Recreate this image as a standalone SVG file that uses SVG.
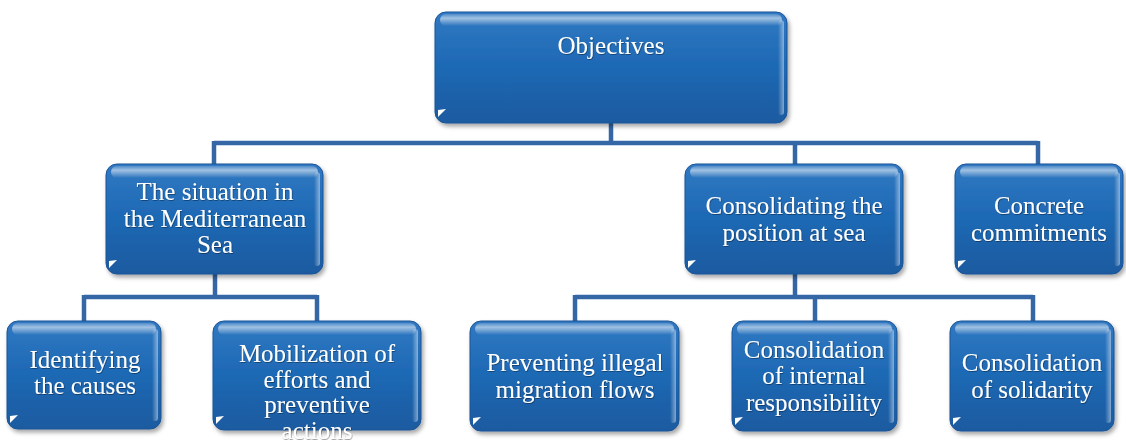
<svg xmlns="http://www.w3.org/2000/svg" width="1126" height="442" viewBox="0 0 1126 442">
<defs>
<linearGradient id="bf" x1="0" y1="0" x2="0" y2="1">
<stop offset="0" stop-color="#3179c2"/>
<stop offset="0.45" stop-color="#1f6ab6"/>
<stop offset="1" stop-color="#1a5aa0"/>
</linearGradient>
<linearGradient id="gl" x1="0" y1="0" x2="0" y2="1">
<stop offset="0" stop-color="#ffffff" stop-opacity="0.15"/>
<stop offset="0.35" stop-color="#ffffff" stop-opacity="0.55"/>
<stop offset="1" stop-color="#ffffff" stop-opacity="0"/>
</linearGradient>
<linearGradient id="re" x1="0" y1="0" x2="1" y2="0">
<stop offset="0" stop-color="#ffffff" stop-opacity="0"/>
<stop offset="1" stop-color="#ffffff" stop-opacity="0.45"/>
</linearGradient>
<filter id="sh" x="-10%" y="-10%" width="125%" height="130%">
<feDropShadow dx="2" dy="3" stdDeviation="2" flood-color="#000" flood-opacity="0.35"/>
</filter>
<filter id="ts" x="-5%" y="-20%" width="110%" height="150%">
<feDropShadow dx="0.6" dy="0.8" stdDeviation="0.6" flood-color="#000" flood-opacity="0.45"/>
</filter>
</defs>
<style>
.box{fill:url(#bf);stroke:#1a5496;stroke-width:1;filter:url(#sh)}
.gloss{fill:url(#gl)}
.redge{fill:url(#re)}
.tri{fill:#ffffff}
.t{font-family:"Liberation Serif","Times New Roman",serif;font-size:25px;fill:#ffffff;text-anchor:middle;filter:url(#ts)}
.c{fill:none;stroke:#3567a6;stroke-width:4.5}
</style>
<rect width="1126" height="442" fill="#ffffff"/>
<g id="connectors">
<path class="c" d="M611 123V143M214 143H1038M214 141V164M795 141V164M1038 141V164"/>
<path class="c" d="M215 274V297M84 297H317M84 295V321M317 295V321"/>
<path class="c" d="M795 274V297M575 297H1033M575 295V321M815 295V321M1033 295V321"/>
</g>
<g id="objectives">
<rect class="box" x="435" y="12" width="352" height="111" rx="11"/>
<rect class="gloss" x="440" y="14" width="342" height="12" rx="6"/>
<rect class="redge" x="778" y="20" width="6" height="95" rx="3"/>
<path class="tri" d="M438 117L446 109L438 110Z"/>
<text class="t" x="611" y="54">Objectives</text>
</g>
<g id="situation">
<rect class="box" x="106" y="164" width="217" height="110" rx="11"/>
<rect class="gloss" x="111" y="166" width="207" height="12" rx="6"/>
<rect class="redge" x="314" y="172" width="6" height="94" rx="3"/>
<path class="tri" d="M109 268L117 260L109 261Z"/>
<text class="t" x="215" y="200">The situation in</text>
<text class="t" x="215" y="227">the Mediterranean</text>
<text class="t" x="215" y="253">Sea</text>
</g>
<g id="consolidating">
<rect class="box" x="685" y="164" width="218" height="110" rx="11"/>
<rect class="gloss" x="690" y="166" width="208" height="12" rx="6"/>
<rect class="redge" x="894" y="172" width="6" height="94" rx="3"/>
<path class="tri" d="M688 268L696 260L688 261Z"/>
<text class="t" x="794" y="214">Consolidating the</text>
<text class="t" x="794" y="241">position at sea</text>
</g>
<g id="concrete">
<rect class="box" x="955" y="164" width="168" height="110" rx="11"/>
<rect class="gloss" x="960" y="166" width="158" height="12" rx="6"/>
<rect class="redge" x="1114" y="172" width="6" height="94" rx="3"/>
<path class="tri" d="M958 268L966 260L958 261Z"/>
<text class="t" x="1039" y="214">Concrete</text>
<text class="t" x="1039" y="241">commitments</text>
</g>
<g id="identifying">
<rect class="box" x="7" y="321" width="154" height="108" rx="11"/>
<rect class="gloss" x="12" y="323" width="144" height="12" rx="6"/>
<rect class="redge" x="152" y="329" width="6" height="92" rx="3"/>
<path class="tri" d="M10 423L18 415L10 416Z"/>
<text class="t" x="85" y="368">Identifying</text>
<text class="t" x="85" y="394">the causes</text>
</g>
<g id="mobilization">
<rect class="box" x="213" y="321" width="208" height="109" rx="11"/>
<rect class="gloss" x="218" y="323" width="198" height="12" rx="6"/>
<rect class="redge" x="412" y="329" width="6" height="93" rx="3"/>
<path class="tri" d="M216 424L224 416L216 417Z"/>
<text class="t" x="317" y="362">Mobilization of</text>
<text class="t" x="317" y="388">efforts and</text>
<text class="t" x="317" y="413">preventive</text>
<text class="t" x="317" y="439">actions</text>
</g>
<g id="preventing">
<rect class="box" x="470" y="321" width="209" height="110" rx="11"/>
<rect class="gloss" x="475" y="323" width="199" height="12" rx="6"/>
<rect class="redge" x="670" y="329" width="6" height="94" rx="3"/>
<path class="tri" d="M473 425L481 417L473 418Z"/>
<text class="t" x="575" y="371">Preventing illegal</text>
<text class="t" x="575" y="398">migration flows</text>
</g>
<g id="internal">
<rect class="box" x="732" y="321" width="165" height="110" rx="11"/>
<rect class="gloss" x="737" y="323" width="155" height="12" rx="6"/>
<rect class="redge" x="888" y="329" width="6" height="94" rx="3"/>
<path class="tri" d="M735 425L743 417L735 418Z"/>
<text class="t" x="814" y="358">Consolidation</text>
<text class="t" x="814" y="384">of internal</text>
<text class="t" x="814" y="411">responsibility</text>
</g>
<g id="solidarity">
<rect class="box" x="950" y="321" width="164" height="110" rx="11"/>
<rect class="gloss" x="955" y="323" width="154" height="12" rx="6"/>
<rect class="redge" x="1105" y="329" width="6" height="94" rx="3"/>
<path class="tri" d="M953 425L961 417L953 418Z"/>
<text class="t" x="1032" y="371">Consolidation</text>
<text class="t" x="1032" y="398">of solidarity</text>
</g>
</svg>
